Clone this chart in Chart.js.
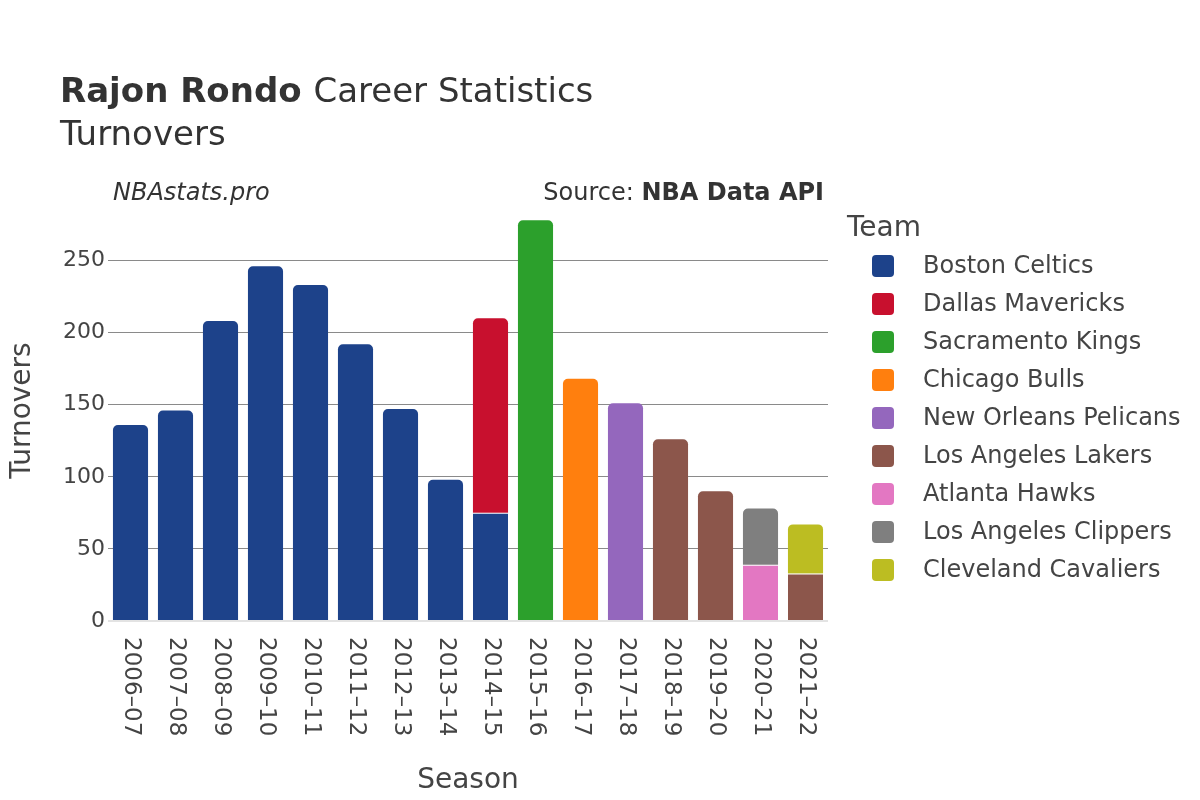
<!DOCTYPE html>
<html lang="en">
<head>
<meta charset="UTF-8">
<title>Rajon Rondo - Turnovers</title>
<script src="https://cdn.jsdelivr.net/npm/chart.js"></script>
<style>
    html, body { margin: 0; padding: 0; background: #fff; }
    #box { width: 1200px; height: 800px; }
</style>
</head>
<body>
<div id="box"><canvas id="grafico"></canvas></div>

<script>
    // seasons + turnovers per team (null = did not play there)
    var seasons = ["2006–07", "2007–08", "2008–09", "2009–10", "2010–11", "2011–12", "2012–13", "2013–14",
        "2014–15", "2015–16", "2016–17", "2017–18", "2018–19", "2019–20", "2020–21", "2021–22"];

    var teams = ["Boston Celtics", "Dallas Mavericks", "Sacramento Kings", "Chicago Bulls", "New Orleans Pelicans",
        "Los Angeles Lakers", "Atlanta Hawks", "Los Angeles Clippers", "Cleveland Cavaliers"];

    var teamColors = ["#1d428a", "#c8102e", "#2ca02c", "#ff7f0e", "#9467bd", "#8c564b", "#e377c2", "#7f7f7f", "#bcbd22"];

    var boston = [136, 146, 208, 246, 233, 192, 147, 98, 75, null, null, null, null, null, null, null];
    var dallas = [null, null, null, null, null, null, null, null, 135, null, null, null, null, null, null, null];
    var sacramento = [null, null, null, null, null, null, null, null, null, 278, null, null, null, null, null, null];
    var chicago = [null, null, null, null, null, null, null, null, null, null, 168, null, null, null, null, null];
    var pelicans = [null, null, null, null, null, null, null, null, null, null, null, 151, null, null, null, null];
    var lakers = [null, null, null, null, null, null, null, null, null, null, null, null, 126, 90, null, 33];
    var atlanta = [null, null, null, null, null, null, null, null, null, null, null, null, null, null, 39, null];
    var clippers = [null, null, null, null, null, null, null, null, null, null, null, null, null, null, 39, null];
    var cavaliers = [null, null, null, null, null, null, null, null, null, null, null, null, null, null, null, 34];

    var yTicks = [0, 50, 100, 150, 200, 250];

    var series = [boston, dallas, sacramento, chicago, pelicans, lakers, atlanta, clippers, cavaliers];

    var fonte = "'DejaVu Sans', sans-serif";
    var corTexto = "#444";

    // the dataset drawn last (on top) for a season gets the rounded corners
    function topoDaPilha(i) {
        var top = -1;
        for (var d = 0; d < series.length; d++) {
            if (series[d][i] != null) top = d;
        }
        return top;
    }

    var datasets = series.map(function (vals, d) {
        return {
            label: teams[d],
            data: vals,
            backgroundColor: teamColors[d],
            borderColor: "rgba(255,255,255,0.85)",
            borderWidth: function (c) {
                return topoDaPilha(c.dataIndex) == d ? 0 : { top: 1, left: 0, right: 0, bottom: 0 };
            },
            borderSkipped: "start",
            borderRadius: function (c) {
                return topoDaPilha(c.dataIndex) == d
                    ? { topLeft: 5, topRight: 5, bottomLeft: 0, bottomRight: 0 }
                    : 0;
            },
            barPercentage: 0.78,
            categoryPercentage: 1
        };
    });

    const textos = {
        id: "textos",
        afterDraw(chart) {
            const ctx = chart.ctx;
            const x = chart.scales.x;
            const area = chart.chartArea;
            ctx.save();
            ctx.fillStyle = "#333";

            // titulo
            ctx.textBaseline = "alphabetic";
            ctx.textAlign = "left";
            ctx.font = "bold 34px " + fonte;
            ctx.fillText("Rajon Rondo", 60, 102);
            var w = ctx.measureText("Rajon Rondo ").width;
            ctx.font = "34px " + fonte;
            ctx.fillText("Career Statistics", 60 + w, 102);
            ctx.fillText("Turnovers", 60, 145);

            ctx.font = "italic 24px " + fonte;
            ctx.fillText("NBAstats.pro", 113, 200);

            ctx.textAlign = "right";
            ctx.font = "bold 24px " + fonte;
            ctx.fillText("NBA Data API", 824, 200);
            var wb = ctx.measureText("NBA Data API").width;
            ctx.font = "24px " + fonte;
            ctx.fillText("Source: ", 824 - wb, 200);

            // rotulos do eixo x, lidos de cima para baixo
            ctx.fillStyle = corTexto;
            ctx.font = "23px " + fonte;
            ctx.textAlign = "left";
            ctx.textBaseline = "middle";
            seasons.forEach(function (s, i) {
                ctx.save();
                ctx.translate(x.getPixelForValue(i), area.bottom + 16);
                ctx.rotate(Math.PI / 2);
                ctx.fillText(s, 0, 0);
                ctx.restore();
            });

            // titulos dos eixos
            ctx.font = "28px " + fonte;
            ctx.textAlign = "center";
            ctx.textBaseline = "alphabetic";
            ctx.fillText("Season", (area.left + area.right) / 2, 788);
            ctx.save();
            ctx.translate(30, (area.top + area.bottom) / 2);
            ctx.rotate(-Math.PI / 2);
            ctx.fillText("Turnovers", 0, 0);
            ctx.restore();

            // legenda
            ctx.textAlign = "left";
            ctx.font = "28px " + fonte;
            ctx.fillText("Team", 847, 236);
            ctx.font = "24px " + fonte;
            ctx.textBaseline = "middle";
            teams.forEach(function (t, i) {
                var yy = 266 + i * 38;
                ctx.fillStyle = teamColors[i];
                ctx.beginPath();
                ctx.roundRect(872, yy - 11, 22, 22, 4);
                ctx.fill();
                ctx.fillStyle = corTexto;
                ctx.fillText(t, 923, yy + 1);
            });
            ctx.restore();
        }
    };

    new Chart(document.getElementById("grafico"), {
        type: "bar",
        data: { labels: seasons, datasets: datasets },
        plugins: [textos],
        options: {
            responsive: true,
            maintainAspectRatio: false,
            animation: false,
            layout: { padding: { top: 200, right: 372, left: 0, bottom: 0 } },
            plugins: {
                legend: { display: false },
                tooltip: { enabled: false }
            },
            scales: {
                x: {
                    stacked: true,
                    grid: { display: false },
                    border: { display: false },
                    ticks: { display: false },
                    afterFit: function (s) { s.height = 179; }
                },
                y: {
                    stacked: true,
                    min: 0,
                    max: 292,
                    afterBuildTicks: function (s) {
                        s.ticks = yTicks.map(function (v) { return { value: v }; });
                    },
                    afterFit: function (s) { s.width = 108; },
                    border: { display: false },
                    grid: {
                        drawTicks: false,
                        color: function (c) { return c.tick.value == 0 ? "#e3e3e3" : "#8a8a8a"; },
                        lineWidth: function (c) { return c.tick.value == 0 ? 2 : 1; }
                    },
                    ticks: {
                        padding: 3,
                        color: corTexto,
                        font: { family: fonte, size: 22 }
                    }
                }
            }
        }
    });
</script>
</body>
</html>
